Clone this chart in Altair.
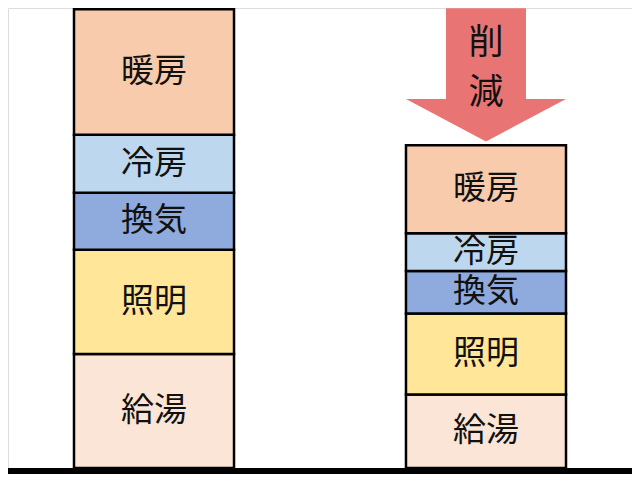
import altair as alt
import pandas as pd

# data (pixel-height units)
categories = ["現状", "削減後"]
uses = ["給湯", "照明", "換気", "冷房", "暖房"]          # bottom -> top
values_now = [118, 108, 59, 60, 130]
values_after = [76, 84, 44, 39, 91]
colors = ["#FBE5D6", "#FFE699", "#8FAADC", "#BDD7EE", "#F8CBAD"]

arrow_label = ["削", "減"]
arrow_label_pos = [440, 388]
arrow_center = [407]

rows = []
for cat, vals in zip(categories, [values_now, values_after]):
    base = 0
    for u, v in zip(uses, vals):
        rows.append({"cat": cat, "use": u, "y0": base, "y1": base + v, "mid": base + v / 2})
        base += v
df = pd.DataFrame(rows)

W, H = 624, 466
xscale = alt.Scale(domain=categories, range=[66, 558], paddingInner=0.518, paddingOuter=0)
yscale = alt.Scale(domain=[-6.2, 476.2], range=[H, 0], nice=False, zero=False)

X = alt.X("cat:N", scale=xscale, axis=None, sort=categories)

bars = alt.Chart(df).mark_bar(stroke="black", strokeWidth=2.5).encode(
    x=X,
    y=alt.Y("y0:Q", scale=yscale, axis=None),
    y2="y1:Q",
    color=alt.Color("use:N", scale=alt.Scale(domain=uses, range=colors), legend=None),
)

labels = alt.Chart(df).mark_text(font="Noto Sans CJK JP", fontSize=33, color="#111111").encode(
    x=X,
    y=alt.Y("mid:Q", scale=yscale, axis=None),
    text="use:N",
)

arrow_path = ("M -0.5 -0.833 L 0.5 -0.833 L 0.5 0.302 L 1 0.302 "
              "L 0 0.833 L -1 0.302 L -0.5 0.302 Z")
arrow_df = pd.DataFrame({"cat": [categories[1]], "y": arrow_center})
arrow = alt.Chart(arrow_df).mark_point(
    shape=arrow_path, size=25600, filled=True, fill="#E97474", strokeWidth=0, opacity=1
).encode(
    x=X,
    y=alt.Y("y:Q", scale=yscale, axis=None),
)

al_df = pd.DataFrame({"cat": [categories[1]] * 2, "t": arrow_label, "y": arrow_label_pos})
arrow_text = alt.Chart(al_df).mark_text(font="Noto Sans CJK JP", fontSize=35, color="#111111").encode(
    x=X,
    y=alt.Y("y:Q", scale=yscale, axis=None),
    text="t:N",
)

base_df = pd.DataFrame({"y": [-3.1]})
baseline = alt.Chart(base_df).mark_rule(color="black", strokeWidth=6).encode(
    x=alt.value(0), x2=alt.value(W),
    y=alt.Y("y:Q", scale=yscale, axis=None),
)

chart = alt.layer(bars, labels, arrow, arrow_text, baseline).properties(
    width=W, height=H, padding=0,
    autosize=alt.AutoSizeParams(type="none"),
).configure_view(stroke="transparent", strokeWidth=0).configure(background="white")

chart.save("out.html", embed_options={"renderer": "svg", "actions": False})
